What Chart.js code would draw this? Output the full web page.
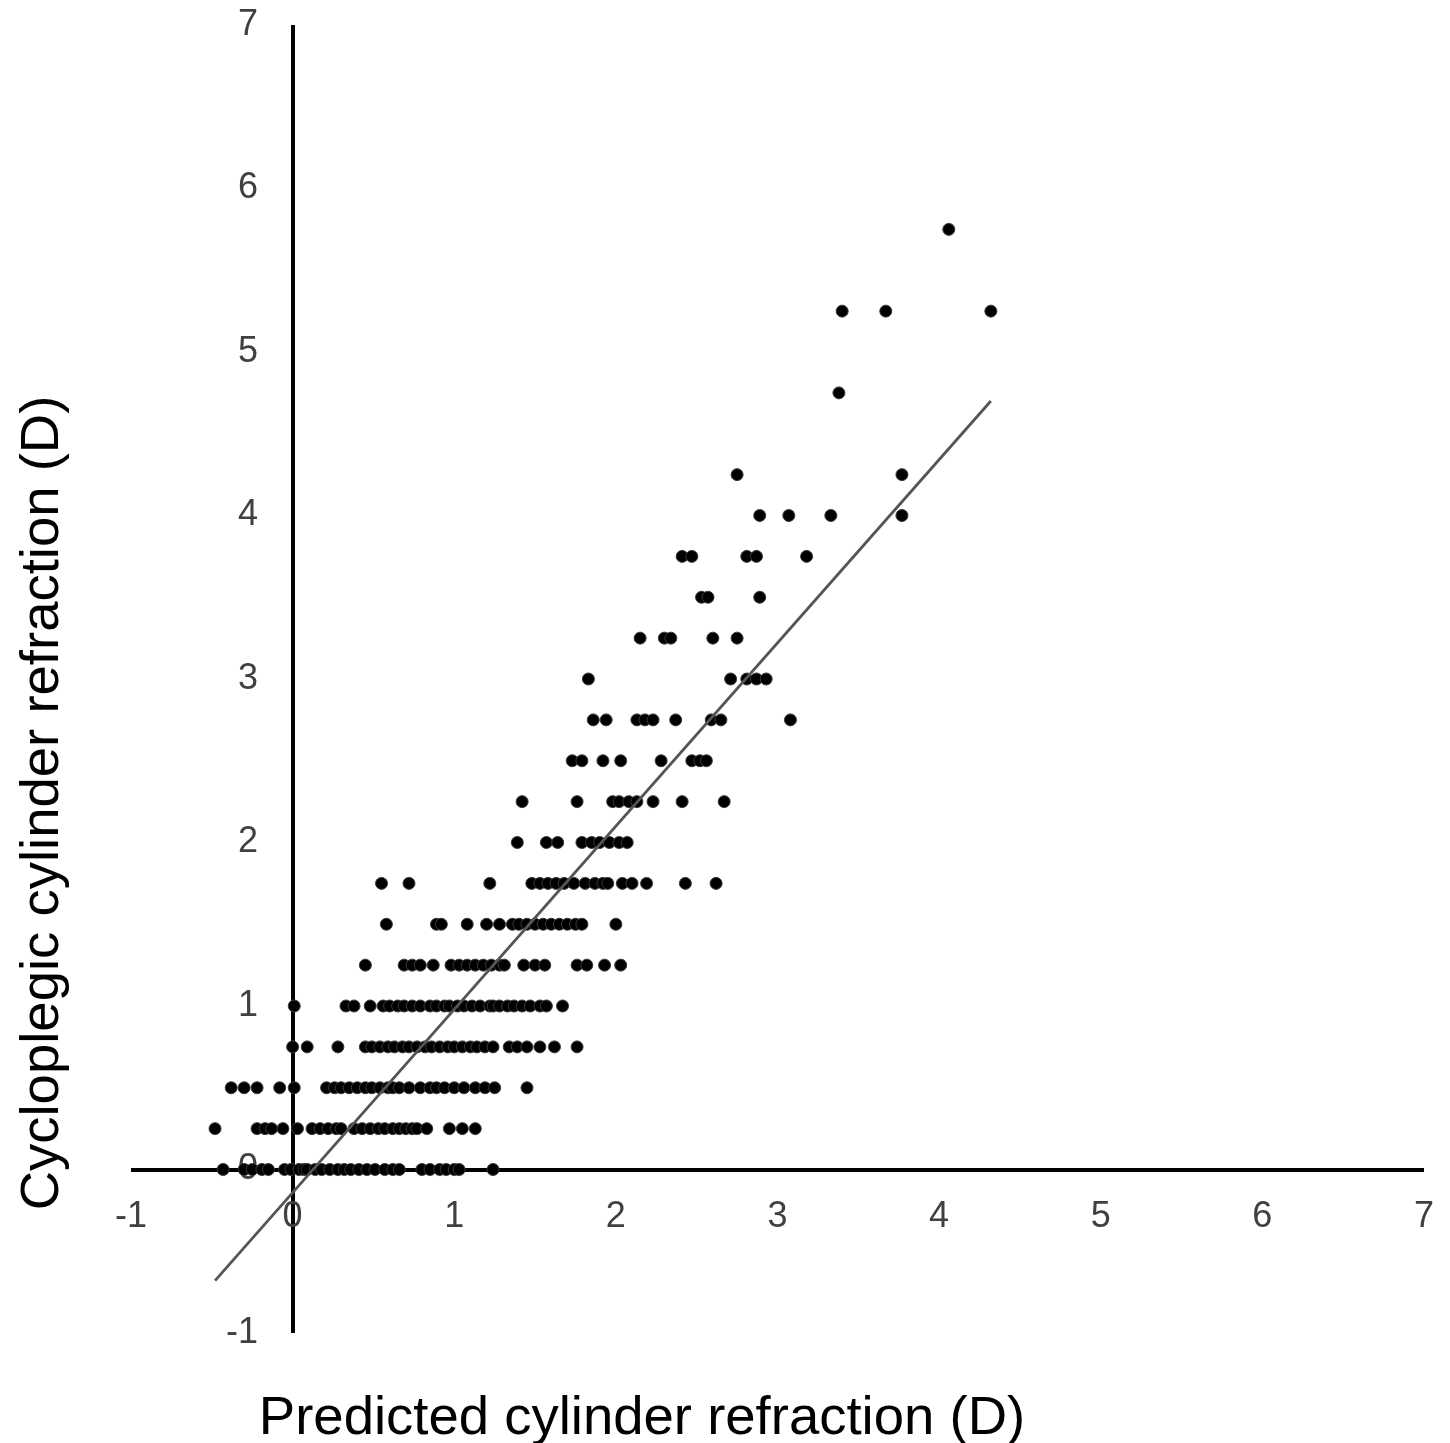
<!DOCTYPE html>
<html>
<head>
<meta charset="utf-8">
<script src="https://cdn.jsdelivr.net/npm/chart.js@4.4.1/dist/chart.umd.min.js"></script>
<style>
  html, body { margin: 0; padding: 0; background: #ffffff; }
  #wrap { position: relative; width: 1450px; height: 1443px; overflow: hidden; }
  #chart { position: absolute; left: 0; top: 0; }
  .ttl { position: absolute; font-family: "Liberation Sans", Arial, sans-serif; font-size: 54.5px; line-height: 54px; height: 54px; color: #000; text-align: center; white-space: nowrap; }
  #xTitle { left: 142px; width: 1000px; top: 1389px; }
  #yTitle { left: -460px; width: 1000px; top: 776px; transform: rotate(-90deg); transform-origin: 500px 27px; }
</style>
</head>
<body>
<div id="wrap">
  <canvas id="chart" width="1450" height="1443"></canvas>
  <div id="xTitle" class="ttl">Predicted cylinder refraction (D)</div>
  <div id="yTitle" class="ttl">Cycloplegic cylinder refraction (D)</div>
</div>
<script>
// Axis ticks
const xTicks = [-1, 0, 1, 2, 3, 4, 5, 6, 7];
const yTicks = [-1, 0, 1, 2, 3, 4, 5, 6, 7];

// Measured cycloplegic cylinder levels (D), one per row of points
const cycloLevels = [0, 0.25, 0.5, 0.75, 1, 1.25, 1.5, 1.75, 2, 2.25, 2.5, 2.75, 3, 3.25, 3.5, 3.75, 4, 4.25, 4.75, 5.25, 5.75];

// Predicted cylinder values (D) for each level
const predAt000 = [-0.43, -0.30, -0.25, -0.19, -0.15, -0.05, -0.01, 0.04, 0.07, 0.09, 0.14, 0.18, 0.23, 0.28, 0.32, 0.36, 0.41, 0.46, 0.51, 0.57, 0.62, 0.66, 0.80, 0.85, 0.91, 0.95, 1.00, 1.03, 1.24];
const predAt025 = [-0.48, -0.22, -0.17, -0.13, -0.06, 0.03, 0.12, 0.17, 0.22, 0.27, 0.30, 0.38, 0.43, 0.48, 0.53, 0.57, 0.62, 0.66, 0.70, 0.74, 0.77, 0.83, 0.97, 1.05, 1.13];
const predAt050 = [-0.38, -0.30, -0.22, -0.08, 0.01, 0.21, 0.26, 0.30, 0.35, 0.40, 0.45, 0.49, 0.54, 0.59, 0.62, 0.66, 0.72, 0.79, 0.85, 0.89, 0.94, 1.00, 1.06, 1.13, 1.19, 1.25, 1.45];
const predAt075 = [0.00, 0.09, 0.28, 0.45, 0.49, 0.54, 0.59, 0.63, 0.68, 0.72, 0.77, 0.82, 0.86, 0.91, 0.96, 1.00, 1.05, 1.10, 1.14, 1.19, 1.24, 1.34, 1.39, 1.45, 1.53, 1.62, 1.76];
const predAt100 = [0.01, 0.33, 0.38, 0.48, 0.56, 0.60, 0.65, 0.69, 0.74, 0.79, 0.85, 0.89, 0.94, 0.97, 1.02, 1.06, 1.11, 1.16, 1.22, 1.24, 1.28, 1.33, 1.37, 1.42, 1.47, 1.53, 1.57, 1.67];
const predAt125 = [0.45, 0.69, 0.74, 0.79, 0.87, 0.98, 1.03, 1.08, 1.13, 1.18, 1.23, 1.28, 1.31, 1.43, 1.50, 1.56, 1.76, 1.82, 1.93, 2.03];
const predAt150 = [0.58, 0.89, 0.92, 1.08, 1.20, 1.28, 1.36, 1.40, 1.45, 1.50, 1.55, 1.60, 1.65, 1.70, 1.75, 1.79, 2.00];
const predAt175 = [0.55, 0.72, 1.22, 1.48, 1.53, 1.58, 1.63, 1.68, 1.74, 1.81, 1.87, 1.92, 1.95, 2.04, 2.10, 2.19, 2.43, 2.62];
const predAt200 = [1.39, 1.57, 1.64, 1.79, 1.85, 1.90, 1.96, 2.02, 2.07];
const predAt225 = [1.42, 1.76, 1.98, 2.02, 2.08, 2.13, 2.23, 2.41, 2.67];
const predAt250 = [1.73, 1.79, 1.92, 2.03, 2.28, 2.47, 2.52, 2.56];
const predAt275 = [1.86, 1.94, 2.13, 2.18, 2.23, 2.37, 2.59, 2.65, 3.08];
const predAt300 = [1.83, 2.71, 2.81, 2.87, 2.93];
const predAt325 = [2.15, 2.30, 2.34, 2.60, 2.75];
const predAt350 = [2.53, 2.57, 2.89];
const predAt375 = [2.41, 2.47, 2.81, 2.87, 3.18];
const predAt400 = [2.89, 3.07, 3.33, 3.77];
const predAt425 = [2.75, 3.77];
const predAt475 = [3.38];
const predAt525 = [3.40, 3.67, 4.32];
const predAt575 = [4.06];

const predRows = [predAt000, predAt025, predAt050, predAt075, predAt100, predAt125, predAt150, predAt175, predAt200, predAt225, predAt250, predAt275, predAt300, predAt325, predAt350, predAt375, predAt400, predAt425, predAt475, predAt525, predAt575];

// Regression line end points
const fitX = [-0.48, 4.32];
const fitY = [-0.68, 4.70];

const scatterPoints = [];
cycloLevels.forEach((lvl, i) => {
  predRows[i].forEach(p => scatterPoints.push({ x: p, y: lvl }));
});
const fitPoints = fitX.map((x, i) => ({ x: x, y: fitY[i] }));

const tickFont = { family: '"Liberation Sans", Arial, sans-serif', size: 36 };
const zeroLine = (ctx) => (ctx.tick && ctx.tick.value === 0) ? '#000000' : 'rgba(0,0,0,0)';
const collapse = (s) => {
  if (s.isHorizontal()) { s.height = 0; } else { s.width = 0; }
  s.paddingLeft = 0; s.paddingRight = 0; s.paddingTop = 0; s.paddingBottom = 0;
};

new Chart(document.getElementById('chart'), {
  type: 'scatter',
  data: {
    datasets: [
      {
        type: 'line',
        label: 'fit',
        data: fitPoints,
        borderColor: '#555555',
        borderWidth: 2.8,
        pointRadius: 0,
        fill: false,
        tension: 0
      },
      {
        label: 'points',
        data: scatterPoints,
        backgroundColor: '#000000',
        borderColor: '#3a3a3a',
        borderWidth: 1,
        pointRadius: 6,
        pointHoverRadius: 6
      }
    ]
  },
  options: {
    responsive: false,
    animation: false,
    events: [],
    layout: { padding: { left: 131, right: 26, top: 25, bottom: 110 } },
    plugins: { legend: { display: false }, tooltip: { enabled: false } },
    scales: {
      x: {
        type: 'linear',
        position: 'bottom',
        min: -1, max: 7,
        afterBuildTicks: (s) => { s.ticks = xTicks.map(v => ({ value: v })); },
        afterFit: collapse,
        border: { display: false },
        grid: { drawTicks: false, color: zeroLine, lineWidth: 4 },
        ticks: { color: '#404040', font: tickFont, mirror: true, padding: 94, maxRotation: 0, autoSkip: false }
      },
      y: {
        type: 'linear',
        position: 'left',
        min: -1, max: 7,
        afterBuildTicks: (s) => { s.ticks = yTicks.map(v => ({ value: v })); },
        afterFit: collapse,
        border: { display: false },
        grid: { drawTicks: false, color: zeroLine, lineWidth: 4 },
        ticks: { color: '#404040', font: tickFont, mirror: true, crossAlign: 'far', padding: 95, autoSkip: false }
      }
    }
  }
});
</script>
</body>
</html>
